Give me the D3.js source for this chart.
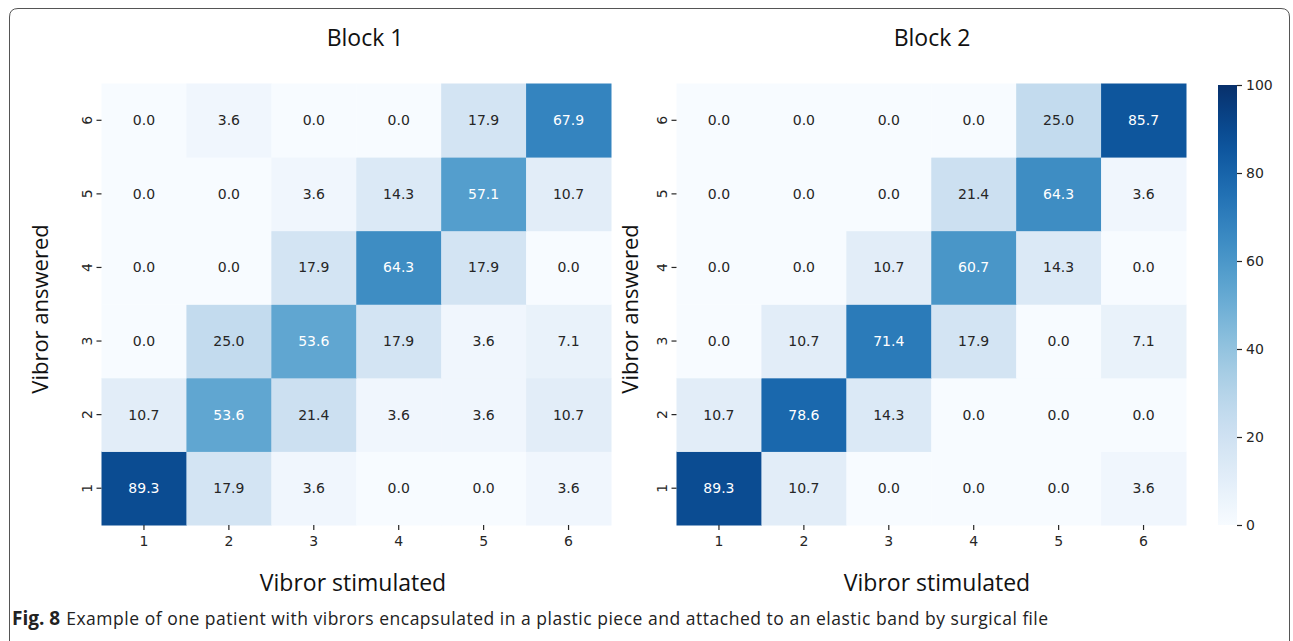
<!DOCTYPE html>
<html><head><meta charset="utf-8">
<script src="https://cdn.jsdelivr.net/npm/d3@7"></script>
<style>body{margin:0;background:#fff}svg{display:block}</style>
</head><body>
<svg id="c" width="1293" height="641"></svg>
<script>
const stimulated = ["1","2","3","4","5","6"];
const answered = ["1","2","3","4","5","6"];
// rows: answered 1..6, columns: stimulated 1..6
const block1 = [
  [89.3, 17.9, 3.6, 0.0, 0.0, 3.6],
  [10.7, 53.6, 21.4, 3.6, 3.6, 10.7],
  [0.0, 25.0, 53.6, 17.9, 3.6, 7.1],
  [0.0, 0.0, 17.9, 64.3, 17.9, 0.0],
  [0.0, 0.0, 3.6, 14.3, 57.1, 10.7],
  [0.0, 3.6, 0.0, 0.0, 17.9, 67.9]
];
const block2 = [
  [89.3, 10.7, 0.0, 0.0, 0.0, 3.6],
  [10.7, 78.6, 14.3, 0.0, 0.0, 0.0],
  [0.0, 10.7, 71.4, 17.9, 0.0, 7.1],
  [0.0, 0.0, 10.7, 60.7, 14.3, 0.0],
  [0.0, 0.0, 0.0, 21.4, 64.3, 3.6],
  [0.0, 0.0, 0.0, 0.0, 25.0, 85.7]
];
const titles = ["Block 1", "Block 2"];
const colorTicks = [0, 20, 40, 60, 80, 100];
const xLabel = "Vibror stimulated";
const yLabel = "Vibror answered";
const captionBold = "Fig. 8";
const captionText = "Example of one patient with vibrors encapsulated in a plastic piece and attached to an elastic band by surgical file";

const svg = d3.select("#c");
const sans = "'DejaVu Sans', sans-serif";
const titleFont = "'Open Sans', 'Noto Sans', sans-serif";

// frame
svg.append("path")
  .attr("d", "M9.5,641 L9.5,17 Q9.5,8.5 18,8.5 L1281,8.5 Q1289.5,8.5 1289.5,17 L1289.5,641")
  .attr("fill", "none").attr("stroke", "#555").attr("stroke-width", 1);

const color = d3.scaleSequential(d3.interpolateBlues).domain([0, 100]);

function lum(c) {
  const r = d3.rgb(c);
  const f = v => { v /= 255; return v <= 0.03928 ? v / 12.92 : Math.pow((v + 0.055) / 1.055, 2.4); };
  return 0.2126 * f(r.r) + 0.7152 * f(r.g) + 0.0722 * f(r.b);
}

const plotTop = 83.5, plotBottom = 525;
const panels = [
  {x0: 101.5, x1: 611, data: block1, titleX: 365, xLabX: 353, yLabX: 40},
  {x0: 676.5, x1: 1186, data: block2, titleX: 932, xLabX: 937, yLabX: 630}
];

panels.forEach((p, pi) => {
  const g = svg.append("g");
  const x = d3.scaleBand().domain(stimulated).range([p.x0, p.x1]);
  const y = d3.scaleBand().domain(answered).range([plotBottom, plotTop]);
  const cells = [];
  p.data.forEach((row, ri) => row.forEach((v, ci) => cells.push({a: answered[ri], s: stimulated[ci], v})));
  g.selectAll("rect").data(cells).join("rect")
    .attr("x", d => x(d.s)).attr("y", d => y(d.a))
    .attr("width", x.bandwidth() + 0.5).attr("height", y.bandwidth() + 0.5)
    .attr("fill", d => color(d.v));
  g.selectAll("text.ann").data(cells).join("text").attr("class", "ann")
    .attr("x", d => x(d.s) + x.bandwidth() / 2).attr("y", d => y(d.a) + y.bandwidth() / 2)
    .attr("dy", "0.36em").attr("text-anchor", "middle")
    .attr("font-family", sans).attr("font-size", 14)
    .attr("fill", d => lum(color(d.v)) > 0.408 ? "#262626" : "#ffffff")
    .text(d => d.v.toFixed(1));

  // x axis
  const xa = g.append("g").attr("transform", `translate(0,${plotBottom})`)
    .call(d3.axisBottom(x).tickSize(5).tickPadding(6));
  xa.select(".domain").remove();
  xa.selectAll("line").attr("stroke", "#262626").attr("stroke-width", 1.2);
  xa.selectAll("text").attr("font-family", sans).attr("font-size", 14).attr("fill", "#262626");

  // y axis
  const ya = g.append("g").attr("transform", `translate(${p.x0},0)`)
    .call(d3.axisLeft(y).tickSize(5).tickPadding(6));
  ya.select(".domain").remove();
  ya.selectAll("line").attr("stroke", "#262626").attr("stroke-width", 1.2);
  ya.selectAll("text").attr("font-family", sans).attr("font-size", 14).attr("fill", "#262626")
    .attr("text-anchor", "middle")
    .attr("transform", "translate(-15,0) rotate(-90)").attr("x", 0).attr("y", 0).attr("dy", "0.36em");

  svg.append("text").attr("x", p.titleX).attr("y", 46).attr("text-anchor", "middle")
    .attr("font-family", titleFont).attr("font-size", 23).attr("fill", "#111").text(titles[pi]);
  svg.append("text").attr("x", p.xLabX).attr("y", 591).attr("text-anchor", "middle")
    .attr("font-family", titleFont).attr("font-size", 23).attr("fill", "#111").text(xLabel);
  svg.append("text").attr("transform", `translate(${p.yLabX + 8},309) rotate(-90)`)
    .attr("text-anchor", "middle")
    .attr("font-family", titleFont).attr("font-size", 22).attr("fill", "#111").text(yLabel);
});

// colorbar
const cbX = 1218, cbW = 19;
const cy = d3.scaleLinear().domain([0, 100]).range([plotBottom, plotTop + 1.5]);
const grad = svg.append("defs").append("linearGradient").attr("id", "cbg")
  .attr("x1", 0).attr("y1", 1).attr("x2", 0).attr("y2", 0);
d3.range(0, 1.0001, 0.05).forEach(t => grad.append("stop").attr("offset", t).attr("stop-color", color(t * 100)));
svg.append("rect").attr("x", cbX).attr("y", cy(100)).attr("width", cbW).attr("height", cy(0) - cy(100))
  .attr("fill", "url(#cbg)");
const ca = svg.append("g").attr("transform", `translate(${cbX + cbW},0)`)
  .call(d3.axisRight(cy).tickValues(colorTicks).tickSize(5).tickPadding(4));
ca.select(".domain").remove();
ca.selectAll("line").attr("stroke", "#262626").attr("stroke-width", 1.2);
ca.selectAll("text").attr("font-family", sans).attr("font-size", 14).attr("fill", "#262626");

// caption
const capB = svg.append("text").attr("x", 12).attr("y", 625)
  .attr("font-family", titleFont).attr("font-size", 19).attr("font-weight", "bold").attr("fill", "#222")
  .text(captionBold);
const bw = capB.node().getComputedTextLength();
const restX = 12 + bw + 6;
svg.append("text").attr("x", restX).attr("y", 625)
  .attr("font-family", titleFont).attr("font-size", 17.5).attr("fill", "#222")
  .attr("textLength", 1048 - restX).attr("lengthAdjust", "spacing").text(captionText);
</script>
</body></html>
